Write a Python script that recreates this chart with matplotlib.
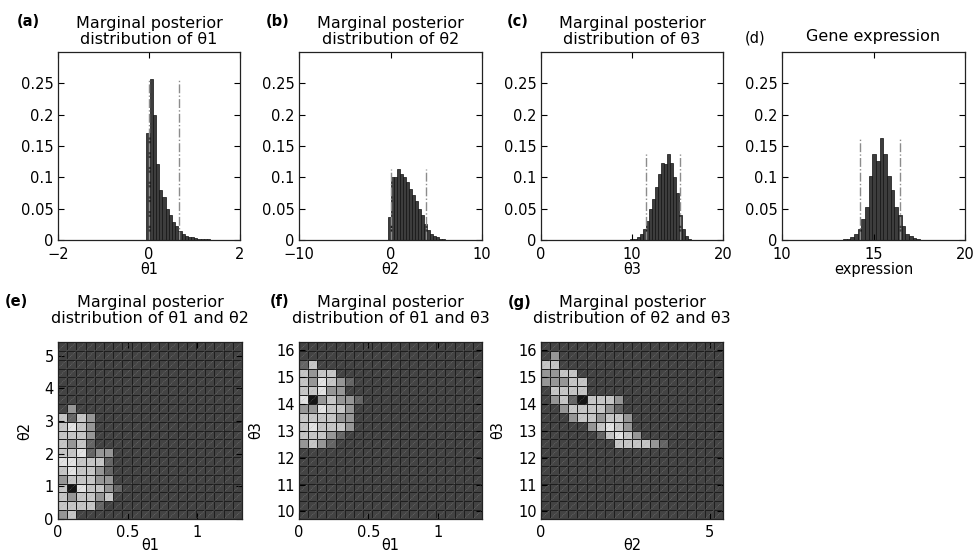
import numpy as np
import matplotlib.pyplot as plt
from matplotlib.colors import ListedColormap, BoundaryNorm
from matplotlib.collections import LineCollection

plt.rcParams['font.family'] = 'DejaVu Sans'
plt.rcParams['font.size'] = 10

# ---- histogram data ----
theta1_centers = [-0.02, 0.05, 0.12, 0.19, 0.26, 0.33, 0.40, 0.47, 0.54, 0.61, 0.68,
                  0.75, 0.82, 0.89, 0.96, 1.03, 1.10, 1.17, 1.24, 1.31, 1.38]
theta1_freq = [0.170, 0.257, 0.200, 0.122, 0.080, 0.068, 0.050, 0.040, 0.028, 0.022, 0.015,
               0.010, 0.007, 0.005, 0.004, 0.003, 0.002, 0.0015, 0.001, 0.001, 0.0005]
theta1_ci = [0.0, 0.67]

theta2_centers = [-0.10, 0.23, 0.56, 0.89, 1.22, 1.55, 1.88, 2.21, 2.54, 2.87,
                  3.20, 3.53, 3.86, 4.19, 4.52, 4.85, 5.18, 5.51, 5.84, 6.17]
theta2_freq = [0.037, 0.100, 0.100, 0.113, 0.106, 0.100, 0.092, 0.082, 0.072, 0.062,
               0.050, 0.040, 0.026, 0.016, 0.010, 0.006, 0.004, 0.002, 0.001, 0.0005]
theta2_ci = [0.05, 3.83]

theta3_centers = [10.00, 10.33, 10.66, 10.99, 11.32, 11.65, 11.98, 12.31, 12.64, 12.97,
                  13.30, 13.63, 13.96, 14.29, 14.62, 14.95, 15.28, 15.61, 15.94, 16.27]
theta3_freq = [0.001, 0.002, 0.005, 0.010, 0.017, 0.030, 0.050, 0.065, 0.085, 0.105,
               0.123, 0.122, 0.137, 0.123, 0.100, 0.075, 0.040, 0.018, 0.006, 0.002]
theta3_ci = [11.5, 15.3]

expr_centers = [13.44, 13.64, 13.84, 14.04, 14.24, 14.44, 14.64, 14.84, 15.04, 15.24, 15.44,
                15.64, 15.84, 16.04, 16.24, 16.44, 16.64, 16.84, 17.04, 17.24, 17.44]
expr_freq = [0.001, 0.002, 0.005, 0.010, 0.018, 0.033, 0.052, 0.102, 0.137, 0.126, 0.162,
             0.138, 0.102, 0.080, 0.052, 0.040, 0.022, 0.010, 0.006, 0.003, 0.001]
expr_ci = [14.25, 16.44]

# ---- 2D marginals: 20x20 grey levels, top row first (0 = empty, 9 = darkest peak) ----
grid_12 = ["0", "0", "0", "0", "0", "0", "0",
           "02", "3132", "3432", "3332", "3231", "334122", "443331",
           "343321", "233322", "3943321", "323323", "33331", "23"]
grid_13 = ["0", "0", "13", "3233", "324321", "334220", "4923221", "224332",
           "333322", "343332", "33321", "2321",
           "0", "0", "0", "0", "0", "0", "0", "0"]
grid_23 = ["0", "02", "33", "2233", "22233", "03333", "023193332", "0023333210",
           "0002332332", "0000023432", "00000013432", "000000003333210",
           "0", "0", "0", "0", "0", "0", "0", "0"]

level_colors = ['#434343', '#656565', '#969696', '#c6c6c6', '#e2e2e2', '#151515']
level_index = {'0': 0, '1': 1, '2': 2, '3': 3, '4': 4, '9': 5}

bar_face = '#3d3d3d'
ci_color = '#8c8c8c'


def style_axes(ax):
    ax.tick_params(direction='in', top=True, right=True, length=4, width=0.8,
                   labelsize=10.5, pad=3)
    ax.tick_params(axis='x', pad=5)
    for s in ax.spines.values():
        s.set_linewidth(0.9)
        s.set_color('#222222')


def draw_hist(ax, centers, freq, ci, width, xlim, xticks, xlabel):
    ax.bar(centers, freq, width=width, color=bar_face, edgecolor='#111111', linewidth=0.5)
    top = max(freq)
    for c in ci:
        ax.plot([c, c], [0, top], linestyle='-.', color=ci_color, linewidth=1.0)
    ax.set_xlim(*xlim)
    ax.set_ylim(0, 0.3)
    ax.set_xticks(xticks)
    ax.set_yticks([0, 0.05, 0.1, 0.15, 0.2, 0.25])
    ax.set_yticklabels(['0', '0.05', '0.1', '0.15', '0.2', '0.25'])
    ax.set_xlabel(xlabel, fontsize=10.5, labelpad=0)
    style_axes(ax)


def draw_grid(ax, rows, xlim, ylim, xticks, xticklabels, yticks, xlabel, ylabel):
    n = 20
    codes = np.array([[level_index[ch] for ch in r.ljust(n, '0')] for r in rows])[::-1]
    xe = np.linspace(xlim[0], xlim[1], n + 1)
    ye = np.linspace(ylim[0], ylim[1], n + 1)
    cmap = ListedColormap(level_colors)
    norm = BoundaryNorm(np.arange(-0.5, len(level_colors)), cmap.N)
    ax.pcolormesh(xe, ye, codes, cmap=cmap, norm=norm, edgecolors='#1e1e1e', linewidth=0.5)
    # faint diagonal inside each cell (rendering artefact of the original)
    segs = [[(xe[i], ye[j]), (xe[i + 1], ye[j + 1])] for i in range(n) for j in range(n)]
    ax.add_collection(LineCollection(segs, colors='#a0a0a0', linewidths=0.4,
                                     linestyles=(0, (2, 1.5)), alpha=0.55))
    ax.set_xlim(*xlim)
    ax.set_ylim(*ylim)
    ax.set_xticks(xticks)
    ax.set_xticklabels(xticklabels)
    ax.set_yticks(yticks)
    ax.set_xlabel(xlabel, fontsize=10.5, labelpad=-1)
    ax.set_ylabel(ylabel, fontsize=10.5, labelpad=9)
    style_axes(ax)
    ax.tick_params(axis='x', pad=4)


W, H = 974, 552
fig = plt.figure(figsize=(W / 100, H / 100), dpi=100)


def px_axes(x0, x1, y0, y1):
    return fig.add_axes([x0 / W, 1 - y1 / H, (x1 - x0) / W, (y1 - y0) / H])


ax_a = px_axes(58, 240, 52, 240)
ax_b = px_axes(299, 482, 52, 240)
ax_c = px_axes(541, 723, 52, 240)
ax_d = px_axes(782, 965, 52, 240)
ax_e = px_axes(58, 242, 342, 519)
ax_f = px_axes(299, 482, 342, 519)
ax_g = px_axes(541, 723, 342, 519)

draw_hist(ax_a, theta1_centers, theta1_freq, theta1_ci, 0.07, (-2, 2), [-2, 0, 2], 'θ1')
draw_hist(ax_b, theta2_centers, theta2_freq, theta2_ci, 0.33, (-10, 10), [-10, 0, 10], 'θ2')
draw_hist(ax_c, theta3_centers, theta3_freq, theta3_ci, 0.33, (0, 20), [0, 10, 20], 'θ3')
draw_hist(ax_d, expr_centers, expr_freq, expr_ci, 0.2, (10, 20), [10, 15, 20], 'expression')

draw_grid(ax_e, grid_12, (0, 1.32), (0, 5.42), [0, 0.5, 1], ['0', '0.5', '1'],
          [0, 1, 2, 3, 4, 5], 'θ1', 'θ2')
draw_grid(ax_f, grid_13, (0, 1.32), (9.72, 16.3), [0, 0.5, 1], ['0', '0.5', '1'],
          [10, 11, 12, 13, 14, 15, 16], 'θ1', 'θ3')
draw_grid(ax_g, grid_23, (0, 5.39), (9.72, 16.3), [0, 5], ['0', '5'],
          [10, 11, 12, 13, 14, 15, 16], 'θ2', 'θ3')

title_kw = dict(fontsize=11.5, linespacing=1.05)
ax_a.set_title('Marginal posterior\ndistribution of θ1', pad=6, **title_kw)
ax_b.set_title('Marginal posterior\ndistribution of θ2', pad=6, **title_kw)
ax_c.set_title('Marginal posterior\ndistribution of θ3', pad=6, **title_kw)
ax_d.set_title('Gene expression', pad=8, **title_kw)
ax_e.set_title('Marginal posterior\ndistribution of θ1 and θ2', pad=14, **title_kw)
ax_f.set_title('Marginal posterior\ndistribution of θ1 and θ3', pad=14, **title_kw)
ax_g.set_title('Marginal posterior\ndistribution of θ2 and θ3', pad=14, **title_kw)

panel_labels = [('(a)', 28, 22, 'bold'), ('(b)', 278, 22, 'bold'), ('(c)', 518, 22, 'bold'),
                ('(d)', 755, 38, 'normal'), ('(e)', 16, 302, 'bold'), ('(f)', 280, 302, 'bold'),
                ('(g)', 520, 302, 'bold')]
for txt, x, y, w in panel_labels:
    fig.text(x / W, 1 - y / H, txt, ha='center', va='center', fontsize=10.5, fontweight=w)

fig.savefig('out.png', dpi=100)
